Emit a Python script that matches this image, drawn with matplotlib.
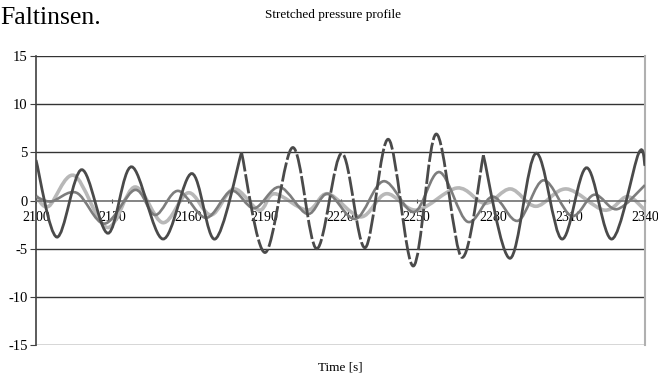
import numpy as np
import matplotlib.pyplot as plt
from matplotlib.path import Path
from matplotlib.patches import PathPatch

# Extremes of each trace (time [s], pressure)
dark_t = [2100, 2108.2, 2118, 2128.4, 2137.7, 2150, 2161.4, 2170.6, 2181, 2190.3, 2201.2, 2210.6,
          2220.5, 2229.7, 2238.9, 2248.7, 2257.7, 2267.8, 2276.3, 2286.8, 2297, 2307.2, 2317, 2327,
          2337.5, 2340]
dark_v = [4.2, -3.8, 3.2, -3.4, 3.5, -4.0, 2.8, -4.0, 5.0, -5.4, 5.5, -5.0,
          4.9, -4.9, 6.35, -6.8, 6.9, -5.9, 4.7, -6.0, 4.9, -4.0, 3.4, -4.0,
          4.9, 3.6]
dashed_from, dashed_to = 2181, 2276.3   # part of the dark trace drawn dashed

mid_t = [2100, 2106, 2116, 2127, 2139, 2147, 2156, 2167, 2177, 2186, 2196, 2207, 2215, 2226,
         2237, 2249, 2259, 2270, 2280, 2290, 2300, 2311, 2320, 2329, 2340]
mid_v = [0.4, -0.1, 0.8, -2.4, 1.1, -1.5, 1.0, -1.8, 1.0, -0.8, 1.4, -1.4, 0.7, -1.9,
         2.0, -1.2, 2.95, -2.2, 0.4, -2.1, 2.1, -1.6, 0.6, -0.9, 1.6]

light_t = [2100, 2105, 2115, 2128, 2139, 2150, 2160, 2169, 2178, 2188, 2194, 2207, 2215, 2228,
           2238, 2250, 2266, 2277, 2287, 2297, 2309, 2324, 2333, 2340]
light_v = [0.5, -0.6, 2.6, -2.8, 1.4, -2.3, 0.8, -1.5, 1.2, -1.0, 0.7, -1.0, 0.7, -1.7,
           0.7, -1.0, 1.3, -0.3, 1.2, -0.6, 1.2, -1.0, 0.4, -1.0]

x_ticks = [2100, 2130, 2160, 2190, 2220, 2250, 2280, 2310, 2340]
y_ticks = [-15, -10, -5, 0, 5, 10, 15]


def smooth_path(ts, vs):
    # smoothed line through the points (like Excel's "smoothed line"), as bezier segments
    p = np.column_stack([ts, vs]).astype(float)
    p = np.vstack([p[0], p, p[-1]])
    verts = [p[1]]
    codes = [Path.MOVETO]
    for i in range(1, len(p) - 2):
        c1 = p[i] + (p[i + 1] - p[i - 1]) / 6
        c2 = p[i + 1] - (p[i + 2] - p[i]) / 6
        verts += [c1, c2, p[i + 1]]
        codes += [Path.CURVE4] * 3
    return Path(verts, codes)


plt.rcParams['font.family'] = ['Liberation Serif', 'DejaVu Serif']

fig = plt.figure(figsize=(6.58, 3.77), dpi=100)
ax = fig.add_axes([36 / 658, 32 / 377, 609 / 658, 289 / 377])

ax.set_xlim(2100, 2340)
ax.set_ylim(-15, 15)

# horizontal gridlines
for y in y_ticks:
    if y != 0:
        ax.axhline(y, color='#333333', lw=1.0, zorder=1)

light = PathPatch(smooth_path(light_t, light_v), fill=False, edgecolor='#b8b8b8', lw=2.6, zorder=2)
mid = PathPatch(smooth_path(mid_t, mid_v), fill=False, edgecolor='#7d7d7d', lw=1.9, zorder=3)
ax.add_patch(light)
ax.add_patch(mid)

# dark trace, solid outside the dashed stretch
dt = np.array(dark_t)
dv = np.array(dark_v)
before = dt <= dashed_from
middle = (dt >= dashed_from) & (dt <= dashed_to)
after = dt >= dashed_to
for sel, ls in [(before, '-'), (middle, (0, (7, 1))), (after, '-')]:
    idx = np.where(sel)[0]
    path = smooth_path(dt[idx], dv[idx])
    ax.add_patch(PathPatch(path, fill=False, edgecolor='#4a4a4a', lw=2.0, linestyle=ls, zorder=4))

# axes in Excel style: category axis crossing at 0
ax.spines['bottom'].set_position(('data', 0))
ax.spines['bottom'].set_color('#707070')
ax.spines['bottom'].set_linewidth(1.2)
ax.spines['left'].set_color('#404040')
ax.spines['left'].set_linewidth(1.2)
ax.spines['right'].set_color('#b0b0b0')
ax.spines['right'].set_linewidth(1.5)
ax.spines['top'].set_visible(False)

ax.set_xticks(x_ticks)
ax.set_xticklabels([str(v) for v in x_ticks])
ax.set_yticks(y_ticks)
ax.set_yticklabels([str(v) for v in y_ticks])
ax.tick_params(axis='x', length=3, direction='inout', colors='#404040', labelcolor='black',
               labelsize=10, pad=6)
ax.tick_params(axis='y', length=4, direction='out', colors='#404040', labelcolor='black',
               labelsize=10.5, pad=2)

fig.text(0.0, 1 - 24 / 377, 'Faltinsen.', fontsize=18.5, ha='left', va='baseline')
fig.text(333 / 658, 1 - 15 / 377, 'Stretched pressure profile', fontsize=9.5, ha='center', va='center')
fig.text(340 / 658, 1 - 367 / 377, 'Time [s]', fontsize=9.5, ha='center', va='center')

fig.savefig('out.png', dpi=100)
